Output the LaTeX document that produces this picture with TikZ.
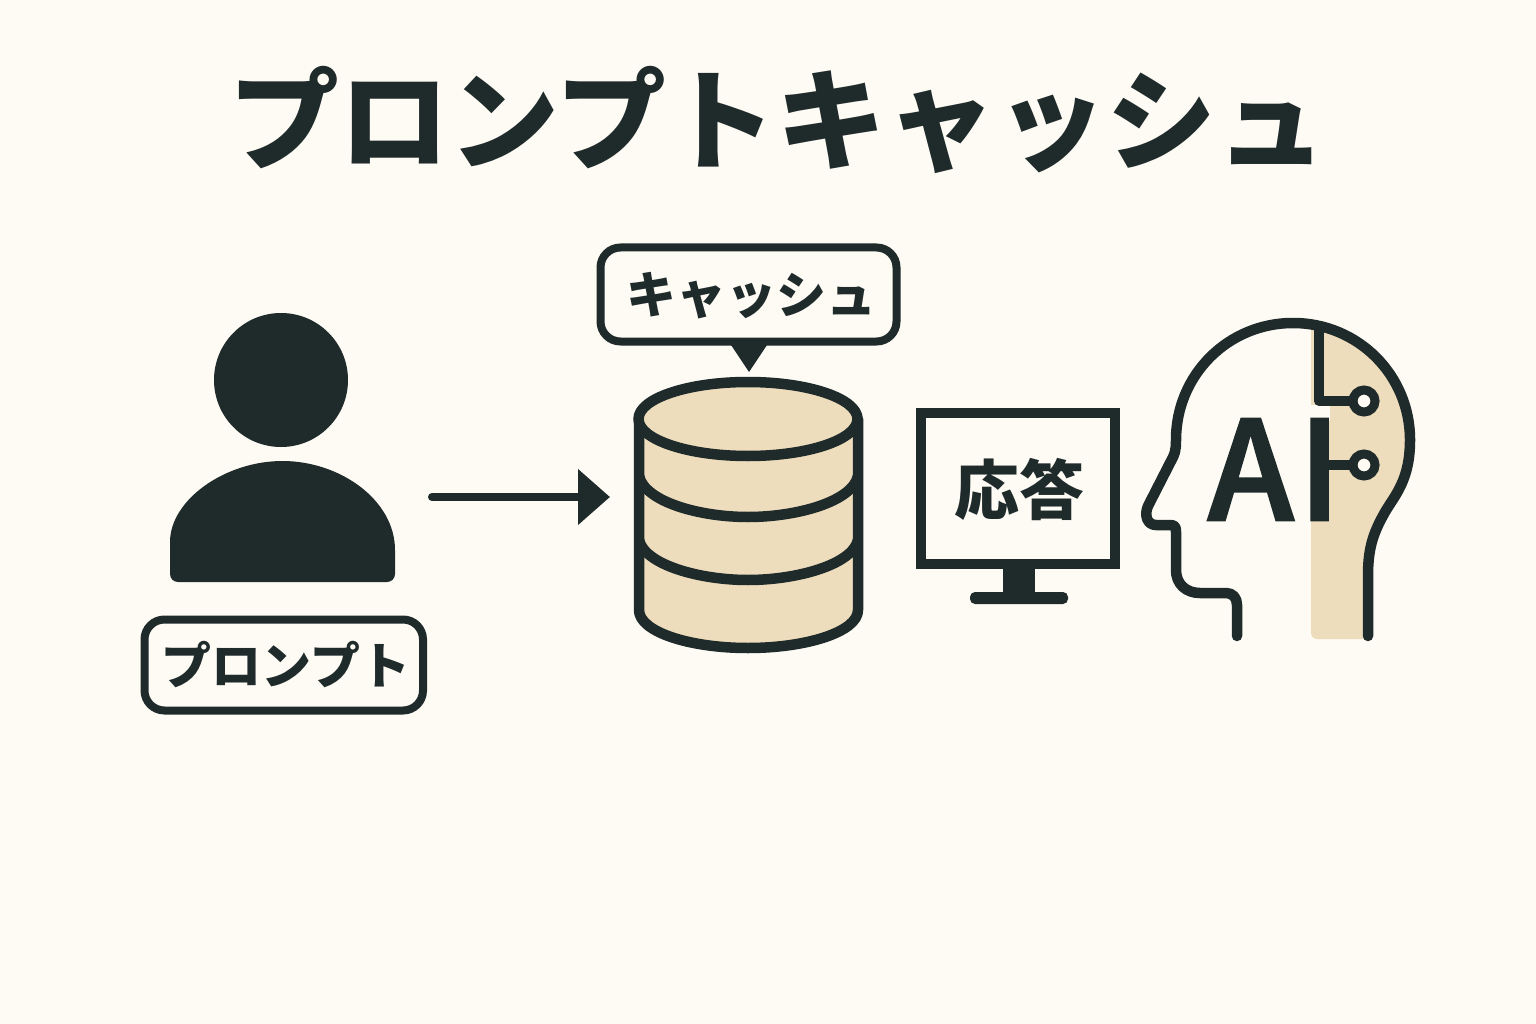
\documentclass[tikz,border=0pt]{standalone}
\usepackage{fontspec}
\newfontfamily\cjk{Noto Sans CJK JP}
\newfontfamily\cjkblack{Noto Sans CJK JP Black}
\newfontfamily\aifont[RawFeature={embolden=2}]{Noto Sans CJK JP Medium}
\usetikzlibrary{arrows.meta}
\definecolor{bgc}{HTML}{FEFBF5}
\definecolor{ink}{HTML}{1F2A2B}
\definecolor{tan}{HTML}{EEDDBD}
\tikzset{
  lab/.style={font=\cjk\bfseries\fontsize{50}{50}\selectfont,text=ink,inner sep=0pt},
  box/.style={draw=ink,line width=8pt,rounded corners=20pt,fill=bgc},
  stroke/.style={draw=ink,line width=10.5pt,line cap=round,line join=round},
  band/.style={draw=ink,line width=10.5pt},
  link/.style={draw=ink,line width=8pt,line cap=round,-{Triangle[length=32pt,width=54pt]}}
}
\begin{document}
\begin{tikzpicture}[x=1pt,y=-1pt]
\useasboundingbox (0,0) rectangle (1536,1024);
\fill[bgc] (0,0) rectangle (1536,1024);
\node[font=\cjkblack\fontsize{110}{110}\selectfont,text=ink,inner sep=0pt] (title) at (778,120) {プロンプトキャッシュ};
% person
\fill[ink] (281,380) circle (67);
\fill[ink] (170,550) .. controls (170,500) and (225,461) .. (282.5,461) .. controls (340,461) and (395,500) .. (395,550) [rounded corners=8pt] -- (395,582) -- (170,582) -- cycle;
\draw[box] (144.5,619.5) rectangle (423,710.5);
\node[lab] (prompt) at (286,665) {プロンプト};
% arrow
\coordinate (arrowstart) at (432,497);
\coordinate (arrowend) at (610,497);
\draw[link] (arrowstart) -- (arrowend);
% callout
\fill[ink] (729,342) -- (769,342) -- (749,372) -- cycle;
\draw[box] (600.5,247.5) rectangle (896.5,341.5);
\node[lab] (cache) at (751,296) {キャッシュ};
% cylinder
\path[fill=tan] (639,419) -- (639,610) .. controls (639,632) and (690,648) .. (748,648) .. controls (806,648) and (858,632) .. (858,610) -- (858,419) -- cycle;
\draw[stroke] (639,419) -- (639,610) .. controls (639,632) and (690,648) .. (748,648) .. controls (806,648) and (858,632) .. (858,610) -- (858,419);
\draw[stroke,fill=tan] (748,419) ellipse [x radius=109.5,y radius=37];
\draw[band] (639,476) .. controls (645,502) and (700,517) .. (748,517) .. controls (796,517) and (852,502) .. (858,476);
\draw[band] (639,540) .. controls (645,565) and (700,580) .. (748,580) .. controls (796,580) and (852,565) .. (858,540);
% monitor
\draw[draw=ink,line width=10pt,fill=bgc] (921,413) rectangle (1115,564);
\fill[ink] (1003,568) rectangle (1035,594);
\fill[ink,rounded corners=5pt] (970,592) rectangle (1068,604);
\node[font=\cjk\bfseries\fontsize{65}{65}\selectfont,text=ink,inner sep=0pt] (answer) at (1019,490) {応答};
% head
\path[fill=tan,rounded corners=6pt] (1311,324) -- (1311,639) -- (1368,639) -- (1368,575) .. controls (1368,545) and (1375,530) .. (1385,512) .. controls (1395,495) and (1410,480) .. (1410,440) .. controls (1410,385) and (1370,335) .. (1311,324) -- cycle;
\fill[bgc] (1311,405) rectangle (1330,421);
\draw[stroke] (1237,636) -- (1237,605) .. controls (1237,598) and (1233,593) .. (1226,593) -- (1200,593) .. controls (1186,593) and (1176,584) .. (1176,570) -- (1176,532) .. controls (1176,527) and (1175,525) .. (1170,525) -- (1156,525) .. controls (1147,525) and (1144,515) .. (1148,506) -- (1171,461) .. controls (1175,454) and (1176,450) .. (1176,440) .. controls (1176,375) and (1228,323) .. (1293,323) .. controls (1358,323) and (1410,375) .. (1410,440) .. controls (1410,480) and (1395,495) .. (1385,512) .. controls (1375,530) and (1368,545) .. (1368,575) -- (1368,636);
\draw[draw=ink,line width=10pt,line join=round] (1319,325) -- (1319,401) -- (1352,401);
\draw[draw=ink,line width=10pt] (1325,465) -- (1352,465);
\draw[draw=ink,line width=9pt,fill=bgc] (1364,401) circle (11);
\draw[draw=ink,line width=9pt,fill=bgc] (1364,465) circle (11);
\node[font=\aifont\fontsize{137}{137}\selectfont,text=ink,inner sep=0pt,anchor=base west] (ai) at (1208,520) {A\kern5pt I};
\end{tikzpicture}
\end{document}
